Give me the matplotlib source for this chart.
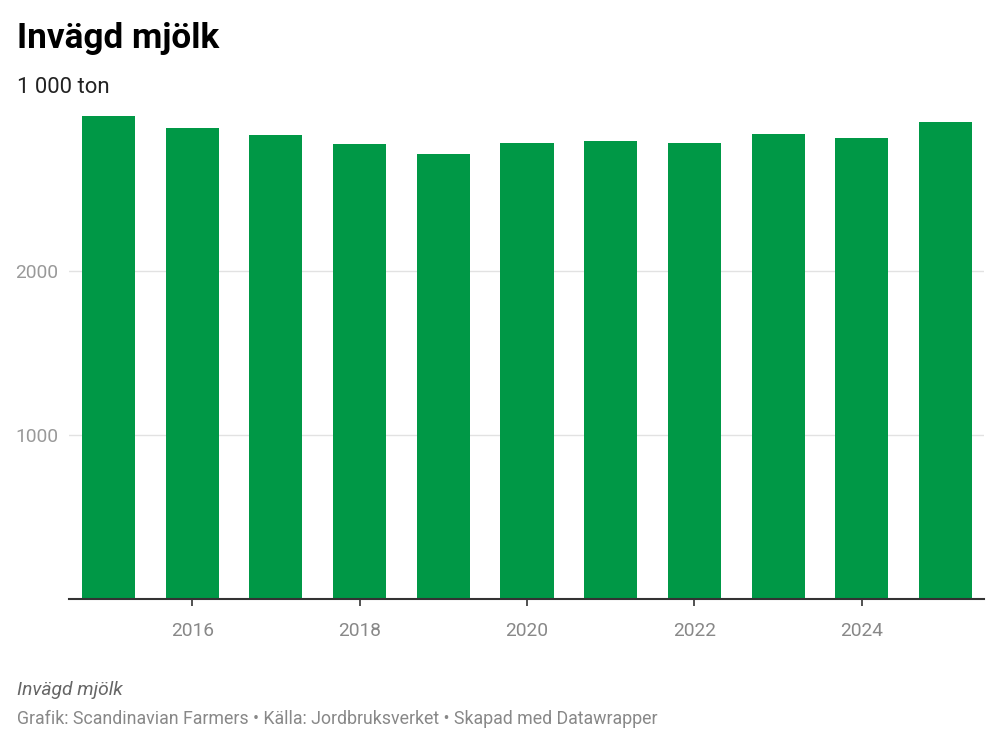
import numpy as np
import matplotlib.pyplot as plt

plt.rcParams['font.family'] = ['Roboto', 'DejaVu Sans']

years = [2015, 2016, 2017, 2018, 2019, 2020, 2021, 2022, 2023, 2024, 2025]
milk = [2944, 2869, 2826, 2773, 2712, 2779, 2791, 2777, 2830, 2810, 2907]
xticks = [2016, 2018, 2020, 2022, 2024]
yticks = [1000, 2000]

W, H = 1000, 745
fig = plt.figure(figsize=(W / 100, H / 100), dpi=100)
fig.patch.set_facecolor('white')

# axes placed in pixel coords
left, right, bottom, top = 69, 984, 598.5, 106.5
ax = fig.add_axes([left / W, 1 - bottom / H, (right - left) / W, (bottom - top) / H])

ax.bar(years, milk, width=0.635, color='#009846', zorder=2)

ax.set_xlim(2014.528, 2025.46)
ax.set_ylim(0, 3000)

for s in ['top', 'right', 'left']:
    ax.spines[s].set_visible(False)
ax.spines['bottom'].set_color('#333333')
ax.spines['bottom'].set_linewidth(1.5)
ax.spines['bottom'].set_zorder(3)

ax.set_xticks(xticks)
ax.set_xticklabels([str(y) for y in xticks], fontsize=13.8, color='#888888')
ax.tick_params(axis='x', length=5, width=1.2, color='#333333', pad=12)

ax.set_yticks(yticks)
ax.set_yticklabels([str(v) for v in yticks], fontsize=13.8, color='#999999')
ax.tick_params(axis='y', length=0, pad=8)
ax.yaxis.grid(True, color='#e2e2e2', linewidth=1, zorder=0)
ax.set_axisbelow(True)

fig.text(17 / W, 1 - 48 / H, 'Invägd mjölk', fontsize=25.3, fontweight='bold',
         color='#000000', va='baseline', ha='left')
fig.text(17 / W, 1 - 93 / H, '1 000 ton', fontsize=15.9, color='#222222',
         va='baseline', ha='left')
fig.text(17 / W, 1 - 695 / H, 'Invägd mjölk', fontsize=13.9, style='italic',
         color='#666666', va='baseline', ha='left')
fig.text(17 / W, 1 - 724 / H,
         'Grafik: Scandinavian Farmers • Källa: Jordbruksverket • Skapad med Datawrapper',
         fontsize=12.8, color='#888888', va='baseline', ha='left')

fig.savefig('out.png', dpi=100, facecolor='white')
